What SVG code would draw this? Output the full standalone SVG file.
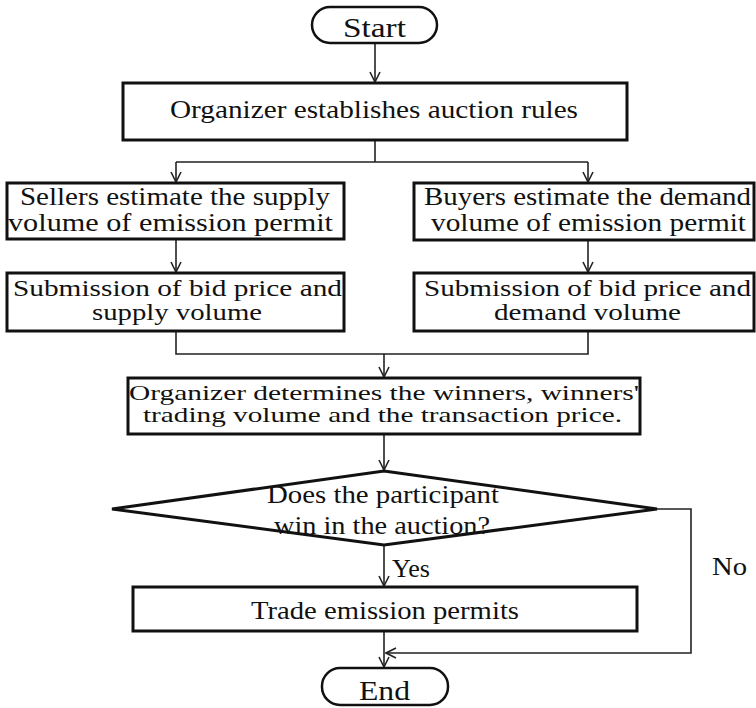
<svg xmlns="http://www.w3.org/2000/svg" width="756" height="708" viewBox="0 0 756 708">
<style>
  text { font-family: "Liberation Serif", "Times New Roman", serif; fill: #111; font-size: 25px; }
  .big { font-size: 28px; }
  .mid { font-size: 23px; }
  .tight { font-size: 21.5px; }
  .box { fill: #fff; stroke: #111; stroke-width: 3; }
  .term { fill: #fff; stroke: #111; stroke-width: 2.5; }
  .dia { fill: #fff; stroke: #111; stroke-width: 3; stroke-linejoin: miter; }
  .con { fill: none; stroke: #222; stroke-width: 1.6; }
</style>
<defs>
  <marker id="arr" viewBox="0 0 12 12" refX="11" refY="6" markerWidth="12" markerHeight="12" markerUnits="userSpaceOnUse" orient="auto">
    <path d="M1,1 L11,6 L1,11" fill="none" stroke="#222" stroke-width="1.6"/>
  </marker>
</defs>
<rect width="756" height="708" fill="#fff"/>

<g id="connectors">
  <path class="con" d="M375,43 V82" marker-end="url(#arr)"/>
  <path class="con" d="M375,140 V162 M176,162 H588"/>
  <path class="con" d="M176,162 V182" marker-end="url(#arr)"/>
  <path class="con" d="M588,162 V182" marker-end="url(#arr)"/>
  <path class="con" d="M176,239 V272" marker-end="url(#arr)"/>
  <path class="con" d="M588,240 V272" marker-end="url(#arr)"/>
  <path class="con" d="M176,331 V354 H588 V331"/>
  <path class="con" d="M384,354 V377" marker-end="url(#arr)"/>
  <path class="con" d="M384,434 V470" marker-end="url(#arr)"/>
  <path class="con" d="M384,545 V586" marker-end="url(#arr)"/>
  <path class="con" d="M384,631 V667" marker-end="url(#arr)"/>
  <path class="con" d="M657,509 H691 V653 H386" marker-end="url(#arr)"/>
  <text x="392" y="577" textLength="38" lengthAdjust="spacingAndGlyphs">Yes</text>
  <text x="712" y="575" textLength="35" lengthAdjust="spacingAndGlyphs">No</text>
</g>

<g id="start">
  <rect class="term" x="312" y="7" width="125" height="36" rx="18"/>
  <text class="big" x="343" y="37" textLength="63" lengthAdjust="spacingAndGlyphs">Start</text>
</g>

<g id="rules">
  <rect class="box" x="123" y="83" width="504" height="57"/>
  <text x="170" y="118" textLength="408" lengthAdjust="spacingAndGlyphs">Organizer establishes auction rules</text>
</g>

<g id="sellers-estimate">
  <rect class="box" x="7" y="183" width="337" height="56"/>
  <text x="20" y="205" textLength="310" lengthAdjust="spacingAndGlyphs">Sellers estimate the supply</text>
  <text x="8" y="231" textLength="325" lengthAdjust="spacingAndGlyphs">volume of emission permit</text>
</g>

<g id="buyers-estimate">
  <rect class="box" x="414" y="183" width="340" height="57"/>
  <text x="424" y="205" textLength="327" lengthAdjust="spacingAndGlyphs">Buyers estimate the demand</text>
  <text x="431" y="231" textLength="315" lengthAdjust="spacingAndGlyphs">volume of emission permit</text>
</g>

<g id="sellers-submit">
  <rect class="box" x="7" y="273" width="337" height="58"/>
  <text class="mid" x="13" y="296" textLength="329" lengthAdjust="spacingAndGlyphs">Submission of bid price and</text>
  <text class="mid" x="92" y="320" textLength="170" lengthAdjust="spacingAndGlyphs">supply volume</text>
</g>

<g id="buyers-submit">
  <rect class="box" x="414" y="273" width="340" height="58"/>
  <text class="mid" x="424" y="296" textLength="327" lengthAdjust="spacingAndGlyphs">Submission of bid price and</text>
  <text class="mid" x="494" y="320" textLength="187" lengthAdjust="spacingAndGlyphs">demand volume</text>
</g>

<g id="determine">
  <rect class="box" x="128" y="378" width="512" height="56"/>
  <text class="tight" x="129" y="400" textLength="510" lengthAdjust="spacingAndGlyphs">Organizer determines the winners, winners'</text>
  <text class="tight" x="143" y="422" textLength="479" lengthAdjust="spacingAndGlyphs">trading volume and the transaction price.</text>
</g>

<g id="decision">
  <polygon class="dia" points="112,509 384,471 657,509 384,545"/>
  <text x="267" y="503" textLength="232" lengthAdjust="spacingAndGlyphs">Does the participant</text>
  <text x="274" y="534" textLength="216" lengthAdjust="spacingAndGlyphs">win in the auction?</text>
</g>

<g id="trade">
  <rect class="box" x="133" y="587" width="504" height="44"/>
  <text x="251" y="619" textLength="268" lengthAdjust="spacingAndGlyphs">Trade emission permits</text>
</g>

<g id="end">
  <rect class="term" x="322" y="668" width="126" height="37" rx="18"/>
  <text class="big" x="359" y="700" textLength="51" lengthAdjust="spacingAndGlyphs">End</text>
</g>
</svg>
